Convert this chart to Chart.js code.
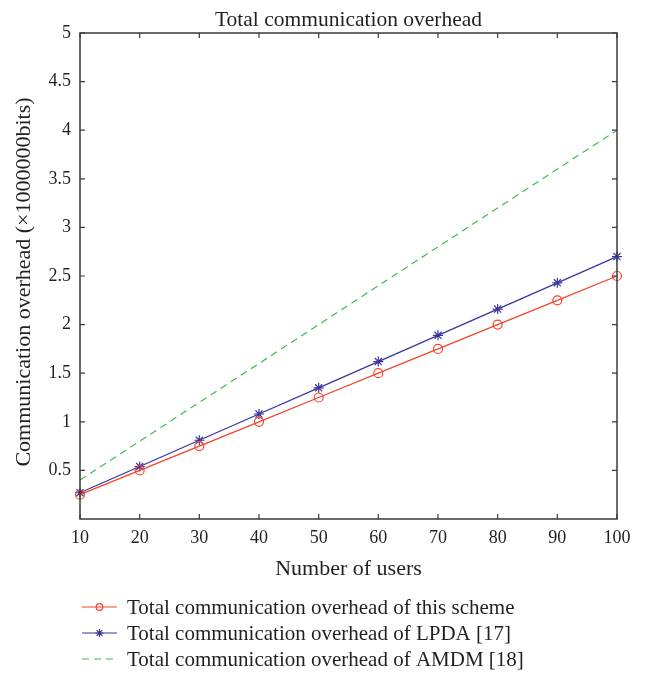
<!DOCTYPE html>
<html>
<head>
<meta charset="utf-8">
<script src="https://cdn.jsdelivr.net/npm/chart.js@4.4.1/dist/chart.umd.min.js"></script>
<style>
  html, body { margin: 0; padding: 0; background: #fff; }
  #wrap { width: 654px; height: 674px; position: relative; }
</style>
</head>
<body>
<div id="wrap"><canvas id="c" width="654" height="674"></canvas></div>
<script>
// Number of users on the x axis
const users = [10, 20, 30, 40, 50, 60, 70, 80, 90, 100];
// Total communication overhead (x1000000 bits)
const thisScheme = [0.25, 0.5, 0.75, 1.0, 1.25, 1.5, 1.75, 2.0, 2.25, 2.5];
const lpda = [0.27, 0.54, 0.81, 1.08, 1.35, 1.62, 1.89, 2.16, 2.43, 2.7];
const amdm = [0.4, 0.8, 1.2, 1.6, 2.0, 2.4, 2.8, 3.2, 3.6, 4.0];
const yTickValues = [0.5, 1, 1.5, 2, 2.5, 3, 3.5, 4, 4.5, 5];
const xTickValues = [10, 20, 30, 40, 50, 60, 70, 80, 90, 100];

const seriesNames = [
  'Total communication overhead of this scheme',
  'Total communication overhead of LPDA [17]',
  'Total communication overhead of AMDM [18]'
];
const titleText = 'Total communication overhead';
const xTitle = 'Number of users';
const yTitle = 'Communication overhead (\u00d71000000bits)';

const FONT = '"Liberation Serif", "DejaVu Serif", serif';
const AXIS = '#3a3a3a';
const TEXT = '#231f20';
const RED = '#f4452a';
const BLUE = '#3b35a0';
const GREEN = '#3dbb4c';

const pairs = vals => users.map((u, i) => ({ x: u, y: vals[i] }));

// Frame, inner ticks, titles and legend
const decor = {
  id: 'decor',
  afterDraw(chart) {
    const ctx = chart.ctx;
    const a = chart.chartArea;
    const xs = chart.scales.x, ys = chart.scales.y;
    ctx.save();
    ctx.strokeStyle = AXIS;
    ctx.lineWidth = 1.5;
    ctx.strokeRect(a.left, a.top, a.right - a.left, a.bottom - a.top);
    const tl = 5;
    ctx.lineWidth = 1.2;
    ctx.beginPath();
    xTickValues.forEach(v => {
      const px = xs.getPixelForValue(v);
      ctx.moveTo(px, a.bottom); ctx.lineTo(px, a.bottom - tl);
      ctx.moveTo(px, a.top); ctx.lineTo(px, a.top + tl);
    });
    yTickValues.forEach(v => {
      const py = ys.getPixelForValue(v);
      ctx.moveTo(a.left, py); ctx.lineTo(a.left + tl, py);
      ctx.moveTo(a.right, py); ctx.lineTo(a.right - tl, py);
    });
    ctx.stroke();

    ctx.fillStyle = TEXT;
    ctx.textAlign = 'center';
    ctx.textBaseline = 'alphabetic';
    ctx.font = '21.5px ' + FONT;
    ctx.fillText(titleText, (a.left + a.right) / 2, 26);
    ctx.textBaseline = 'middle';
    ctx.font = '22px ' + FONT;
    ctx.fillText(xTitle, (a.left + a.right) / 2, 569);
    ctx.save();
    ctx.translate(24, 282);
    ctx.rotate(-Math.PI / 2);
    ctx.fillText(yTitle, 0, 0);
    ctx.restore();

    // legend
    ctx.textAlign = 'left';
    ctx.font = '21px ' + FONT;
    const rowsY = [607, 633, 659];
    chart.data.datasets.forEach((ds, i) => {
      const y = rowsY[i];
      ctx.strokeStyle = ds.borderColor;
      ctx.lineWidth = 1.2;
      ctx.setLineDash(ds.borderDash || []);
      ctx.beginPath();
      ctx.moveTo(82, y); ctx.lineTo(117, y);
      ctx.stroke();
      ctx.setLineDash([]);
      if (ds.pointStyle === 'circle') {
        ctx.beginPath();
        ctx.arc(99.5, y, 3.3, 0, Math.PI * 2);
        ctx.stroke();
      } else if (ds.pointStyle === 'star') {
        const r = 4;
        ctx.beginPath();
        ctx.moveTo(99.5 - r, y); ctx.lineTo(99.5 + r, y);
        ctx.moveTo(99.5, y - r); ctx.lineTo(99.5, y + r);
        const d = r * 0.7;
        ctx.moveTo(99.5 - d, y - d); ctx.lineTo(99.5 + d, y + d);
        ctx.moveTo(99.5 - d, y + d); ctx.lineTo(99.5 + d, y - d);
        ctx.stroke();
      }
      ctx.fillStyle = TEXT;
      ctx.fillText(seriesNames[i], 127, y + 1);
    });
    ctx.restore();
  }
};

new Chart(document.getElementById('c'), {
  type: 'line',
  data: {
    datasets: [
      { label: seriesNames[0], data: pairs(thisScheme), borderColor: RED, backgroundColor: 'transparent',
        borderWidth: 1.3, pointStyle: 'circle', pointRadius: 4.5, pointBorderWidth: 1.2, pointBorderColor: RED,
        pointBackgroundColor: 'transparent', clip: false },
      { label: seriesNames[1], data: pairs(lpda), borderColor: BLUE, backgroundColor: 'transparent',
        borderWidth: 1.3, pointStyle: 'star', pointRadius: 5, pointBorderWidth: 1.2, pointBorderColor: BLUE,
        clip: false },
      { label: seriesNames[2], data: pairs(amdm), borderColor: GREEN, backgroundColor: 'transparent',
        borderWidth: 1.2, borderDash: [7, 5], pointRadius: 0, clip: false }
    ]
  },
  options: {
    responsive: false,
    animation: false,
    events: [],
    layout: { padding: { top: 33, right: 37, left: 0, bottom: 0 } },
    plugins: { legend: { display: false }, title: { display: false }, tooltip: { enabled: false } },
    scales: {
      x: {
        type: 'linear', min: 10, max: 100,
        afterBuildTicks: s => { s.ticks = xTickValues.map(v => ({ value: v })); },
        afterFit: s => { s.height = 155; },
        grid: { display: false, drawTicks: false },
        border: { display: false },
        ticks: { color: TEXT, padding: 8, maxRotation: 0, font: { family: FONT, size: 18 },
                 callback: v => String(v) }
      },
      y: {
        type: 'linear', min: 0, max: 5,
        afterBuildTicks: s => { s.ticks = yTickValues.map(v => ({ value: v })); },
        afterFit: s => { s.width = 80; },
        grid: { display: false, drawTicks: false },
        border: { display: false },
        ticks: { color: TEXT, padding: 9, font: { family: FONT, size: 18 },
                 callback: v => String(v) }
      }
    }
  },
  plugins: [decor]
});
</script>
</body>
</html>
